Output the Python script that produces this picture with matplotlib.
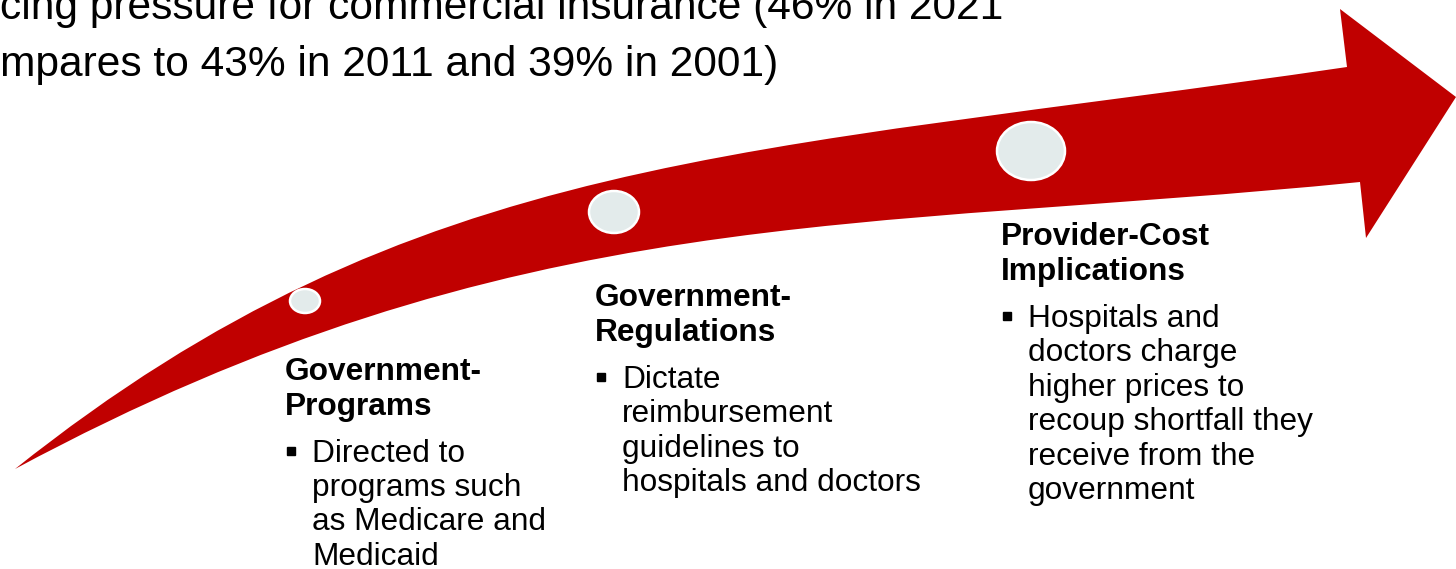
import matplotlib
matplotlib.use("Agg")
import matplotlib.pyplot as plt
from matplotlib.path import Path
from matplotlib.patches import PathPatch, Ellipse

# ---- content ----
top_lines = ["cing pressure for commercial insurance (46% in 2021",
             "mpares to 43% in 2011 and 39% in 2001)"]
headings = [["Government-", "Programs"],
            ["Government-", "Regulations"],
            ["Provider-Cost", "Implications"]]
bullets = [["Directed to", "programs such", "as Medicare and", "Medicaid"],
           ["Dictate", "reimbursement", "guidelines to", "hospitals and doctors"],
           ["Hospitals and", "doctors charge", "higher prices to",
            "recoup shortfall they", "receive from the", "government"]]

# ---- layout (pixel coordinates, y downward) ----
W, H = 1456, 569
col_x = [285, 595, 1001]
col_y = [380, 306, 245]          # baseline of first heading line
circle_centers = [(305, 301), (614, 212), (1031, 151)]
circle_sizes = [(30, 24), (50, 42), (68, 58)]

RED = "#C00000"
CIRCLE = "#E3EBEB"
FONT = "Liberation Sans"

fig = plt.figure(figsize=(W / 100, H / 100), dpi=100)
ax = fig.add_axes([0, 0, 1, 1])
ax.set_xlim(0, W)
ax.set_ylim(H, 0)
ax.axis("off")

# ---- curved arrow ----
verts = [(15, 469),
         (415, 150), (747, 155), (1347, 67),      # upper edge (cubic)
         (1340, 9), (1456, 97), (1366, 238), (1360, 182),
         (860, 232), (515, 200), (15, 469),       # lower edge (cubic)
         (15, 469)]
codes = [Path.MOVETO,
         Path.CURVE4, Path.CURVE4, Path.CURVE4,
         Path.LINETO, Path.LINETO, Path.LINETO, Path.LINETO,
         Path.CURVE4, Path.CURVE4, Path.CURVE4,
         Path.CLOSEPOLY]
ax.add_patch(PathPatch(Path(verts, codes), facecolor=RED, edgecolor="none", zorder=1))

for (cx, cy), (w, h) in zip(circle_centers, circle_sizes):
    ax.add_patch(Ellipse((cx, cy), w, h, facecolor=CIRCLE, edgecolor="white",
                         linewidth=1.8, zorder=2))

# ---- top text ----
top_baselines = [19, 76]
for line, yb in zip(top_lines, top_baselines):
    ax.text(0, yb, line, fontsize=30.6, family=FONT, va="baseline", ha="left",
            color="black")

# ---- columns ----
LS = 34.5
for x, y0, head, items in zip(col_x, col_y, headings, bullets):
    for i, line in enumerate(head):
        ax.text(x, y0 + i * LS, line, fontsize=22.8, family=FONT, weight="bold",
                va="baseline", ha="left", color="black")
    yb = y0 + LS + 47
    ax.plot([x + 6], [yb - 11], marker="s", markersize=5.6, color="black",
            linestyle="none")
    for j, line in enumerate(items):
        ax.text(x + 27, yb + j * LS, line, fontsize=22.8, family=FONT,
                va="baseline", ha="left", color="black")

fig.savefig("out.png", dpi=100)
